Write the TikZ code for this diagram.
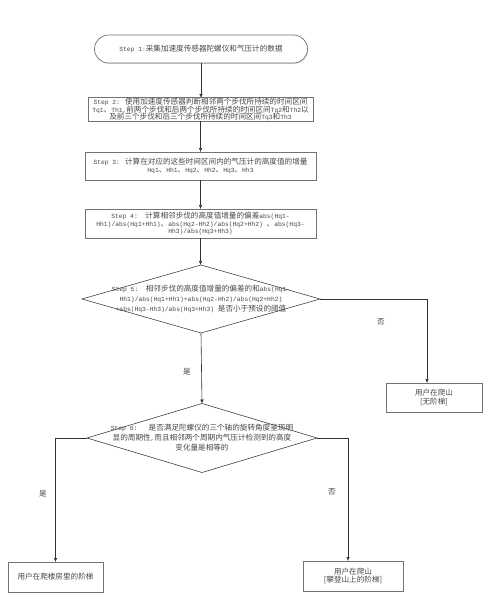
\documentclass[tikz,border=0pt]{standalone}
\usepackage{fontspec}
\setmainfont{Noto Sans CJK SC}
\newfontfamily\monolat[Scale=0.83]{Liberation Mono}
\newcommand\LL[1]{{\monolat #1}}
\usetikzlibrary{arrows.meta,shapes.geometric,shadows}
\begin{document}
\begin{tikzpicture}[x=1pt,y=-1pt,
  every node/.style={inner sep=0pt, outer sep=0pt},
  txt/.style={font=\fontsize{7.6}{7.8}\selectfont, text=black!72, align=center},
  dtxt/.style={font=\fontsize{7.6}{10}\selectfont, text=black!72, align=center},
  lbl/.style={font=\fontsize{7.6}{8}\selectfont, text=black!72},
  box/.style={txt, draw=black!55, line width=0.7pt, fill=white,
    drop shadow={shadow xshift=0.8pt, shadow yshift=-0.8pt, fill=black!30}},
  dia/.style={shape=diamond, draw=black!75, line width=0.6pt, fill=white},
  arr/.style={draw=black!80, line width=0.6pt, -{Latex[length=4pt,width=3.6pt]}}
]
\useasboundingbox[fill=white] (0,0) rectangle (490,614);

\node[box, rounded corners=14pt, minimum width=213pt, minimum height=28pt] (s1) at (201,49)
  {\LL{Step 1:}采集加速度传感器陀螺仪和气压计的数据};

\node[box, minimum width=225pt, minimum height=23pt] (s2) at (200.5,109.5)
  {\LL{Step 2: }使用加速度传感器判断相邻两个步伐所持续的时间区间\\
   \LL{Tq1}、\LL{Th1,}前两个步伐和后两个步伐所持续的时间区间\LL{Tq2}和\LL{Th2}以\\
   及前三个步伐和后三个步伐所持续的时间区间\LL{Tq3}和\LL{Th3}};

\node[box, minimum width=231pt, minimum height=28pt] (s3) at (200.5,166)
  {\LL{Step 3: }计算在对应的这些时间区间内的气压计的高度值的增量\\
   \LL{Hq1}、\LL{Hh1}、\LL{Hq2}、\LL{Hh2}、\LL{Hq3}、\LL{Hh3}};

\node[box, minimum width=231pt, minimum height=29pt] (s4) at (200.5,223.5)
  {\LL{Step 4:~~}计算相邻步伐的高度值增量的偏差\LL{abs(Hq1-}\\
   \LL{Hh1)/abs(Hq1+Hh1)}、\LL{abs(Hq2-Hh2)/abs(Hq2+Hh2)~}、\LL{abs(Hq3-}\\
   \LL{Hh3)/abs(Hq3+Hh3)}};

\node[dia, minimum width=238pt, minimum height=68pt] (d5) at (201,299) {};
\node[dtxt] (t5) at (d5.center)
  {\LL{Step 5:~~}相邻步伐的高度值增量的偏差的和\LL{abs(Hq1-}\\
   \LL{Hh1)/abs(Hq1+Hh1)+abs(Hq2-Hh2)/abs(Hq2+Hh2)}\\
   \LL{+abs(Hq3-Hh3)/abs(Hq3+Hh3)~}是否小于预设的阈值};

\node[dia, minimum width=230pt, minimum height=69pt] (d6) at (202,438) {};
\node[dtxt] (t6) at (d6.center)
  {\LL{Step 6:~~~}是否满足陀螺仪的三个轴的旋转角度呈现明\\
   显的周期性\LL{,}而且相邻两个周期内气压计检测到的高度\\
   变化量是相等的};

\node[box, minimum width=96pt, minimum height=29pt] (rb) at (434,397.5)
  {用户在爬山\\[1pt][无阶梯]};
\node[box, minimum width=95pt, minimum height=30pt] (bl) at (55.5,577)
  {用户在爬楼房里的阶梯};
\node[box, minimum width=100pt, minimum height=30pt] (br) at (353,576)
  {用户在爬山\\[1pt][攀登山上的阶梯]};

\draw[arr] (s1.south) -- (s1.south |- s2.north);
\draw[arr] (s2.south) -- (s2.south |- s3.north);
\draw[arr] (s3.south) -- (s3.south |- s4.north);
\draw[arr] (s4.south) -- (s4.south |- d5.north);
\draw[arr] (d5.south) -- (d6.north);
\draw[arr] (d5.east) -| ([xshift=-7pt]rb.north);
\draw[arr] (d6.west) -| (bl.north);
\draw[arr] (d6.east) -| ([xshift=-5pt]br.north);

\node[lbl] (y1) at (187,372) {是};
\node[lbl] (n1) at (381,322) {否};
\node[lbl] (y2) at (43,494) {是};
\node[lbl] (n2) at (332,492) {否};
\end{tikzpicture}
\end{document}
